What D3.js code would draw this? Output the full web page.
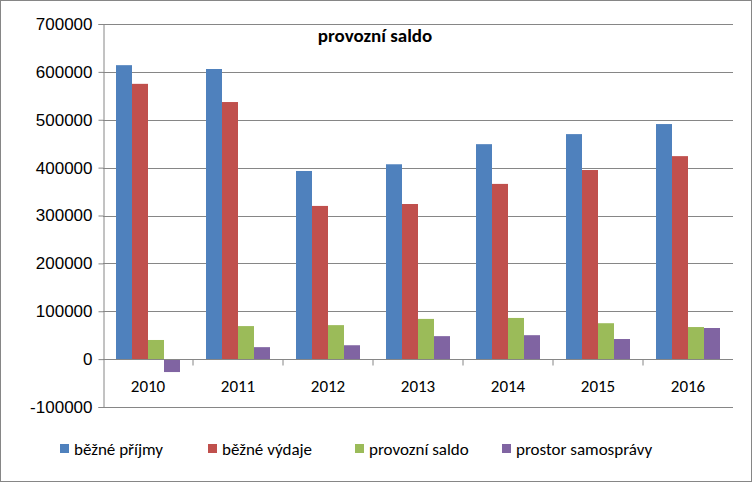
<!DOCTYPE html><html><head><meta charset="utf-8"><script src="https://cdn.jsdelivr.net/npm/d3@7"></script>
<style>body{margin:0;background:#fff}svg{font-family:Calibri,Carlito,"Liberation Sans",Arial,sans-serif}</style></head><body>
<svg id="c" width="752" height="482"></svg>
<script>
const categories=["2010","2011","2012","2013","2014","2015","2016"];
const seriesNames=["běžné příjmy","běžné výdaje","provozní saldo","prostor samosprávy"];
const colors=["#4f81bd","#c0504d","#9bbb59","#8064a2"];
const prijmy=[614000,606000,393000,407000,449000,470000,491000];
const vydaje=[575000,537000,320000,324000,366000,395000,424000];
const saldo=[40000,69000,71000,84000,86000,75000,67000];
const prostor=[-27000,25000,29000,48000,50000,42000,65000];
const yTicks=[-100000,0,100000,200000,300000,400000,500000,600000,700000];
const series=[prijmy,vydaje,saldo,prostor];
const svg=d3.select("#c");
svg.append("rect").attr("x",0.5).attr("y",0.5).attr("width",751).attr("height",481).attr("fill","#fff").attr("stroke","#868686");
const L=103,R=733;
const x=d3.scaleBand().domain(categories).range([L,R]).paddingInner(0).paddingOuter(0);
const y=d3.scaleLinear().domain([-100000,700000]).range([407,24]);
const x1=d3.scaleBand().domain(d3.range(4)).range([13,x.bandwidth()-13]);
svg.append("g").selectAll("line").data(yTicks).join("line").attr("x1",L).attr("x2",R).attr("y1",d=>Math.round(y(d))+0.5).attr("y2",d=>Math.round(y(d))+0.5).attr("stroke","#868686");
const ya=svg.append("g").attr("transform",`translate(${L+0.5},0)`).call(d3.axisLeft(y).tickValues(yTicks).tickSize(5).tickFormat(d=>d));
ya.selectAll("text").attr("font-size",17).attr("fill","#000").attr("dx",-3);
ya.selectAll("line,path").attr("stroke","#868686");
series.forEach((s,i)=>{
 svg.append("g").selectAll("rect").data(s).join("rect")
 .attr("x",(d,j)=>x(categories[j])+x1(i)).attr("width",x1.bandwidth())
 .attr("y",d=>y(Math.max(0,d))).attr("height",d=>Math.abs(y(d)-y(0))).attr("fill",colors[i]);
});
const y0=Math.round(y(0))+0.5;
svg.append("line").attr("x1",L).attr("x2",R).attr("y1",y0).attr("y2",y0).attr("stroke","#868686");
svg.append("g").selectAll("line").data(categories.slice(1)).join("line").attr("x1",d=>x(d)).attr("x2",d=>x(d)).attr("y1",y0).attr("y2",y0+6).attr("stroke","#868686");
svg.append("g").selectAll("text").data(categories).join("text").attr("x",d=>x(d)+x.bandwidth()/2).attr("y",y0+32).attr("text-anchor","middle").attr("font-size",17).text(d=>d);
svg.append("text").attr("x",375).attr("y",42).attr("text-anchor","middle").attr("font-size",19).attr("font-weight","bold").text("provozní saldo");
const lx=[60,208,355,502];
const lg=svg.append("g").selectAll("g").data(seriesNames).join("g").attr("transform",(d,i)=>`translate(${lx[i]},449)`);
lg.append("rect").attr("x",0).attr("y",-5).attr("width",9).attr("height",9).attr("fill",(d,i)=>colors[i]);
lg.append("text").attr("x",14).attr("y",6).attr("font-size",17).text(d=>d);
</script></body></html>
